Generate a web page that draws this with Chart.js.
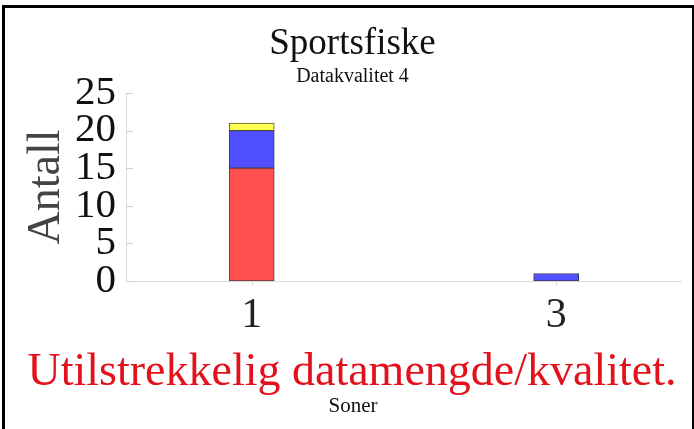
<!DOCTYPE html>
<html><head><meta charset="utf-8">
<script src="https://cdn.jsdelivr.net/npm/chart.js@4/dist/chart.umd.min.js"></script>
<style>
html,body{margin:0;padding:0;background:#fff;overflow:hidden;}
#wrap{position:relative;width:694px;height:429px;}
#frame{position:absolute;left:2px;top:5px;width:687px;height:440px;border:3px solid #000;border-bottom:none;pointer-events:none;}
</style></head><body>
<div id="wrap"><canvas id="c" width="694" height="429"></canvas><div id="frame"></div></div>
<script>
const categories = [1, 3];
const yTicks = [0, 5, 10, 15, 20, 25];
const redValues = [15, 0];
const blueValues = [5, 1];
const yellowValues = [1, 0];
const chartTitle = 'Sportsfiske';
const chartSubtitle = 'Datakvalitet 4';
const yTitle = 'Antall';
const xTitle = 'Soner';
const warningText = 'Utilstrekkelig datamengde/kvalitet.';

const SERIF = '"Liberation Serif", "DejaVu Serif", serif';
const pts = vals => categories.map((c, i) => ({x: c, y: vals[i]}));

const inwardTicks = {
  id: 'inwardTicks',
  afterDatasetsDraw(chart) {
    const {ctx, scales: {x, y}} = chart;
    ctx.save();
    ctx.strokeStyle = '#cfcfcf';
    ctx.lineWidth = 1;
    ctx.beginPath();
    yTicks.forEach(v => {
      const py = Math.round(y.getPixelForValue(v)) + 0.5;
      ctx.moveTo(x.left, py); ctx.lineTo(x.left + 7, py);
    });
    categories.forEach(v => {
      const px = Math.round(x.getPixelForValue(v)) + 0.5;
      ctx.moveTo(px, y.bottom + 1); ctx.lineTo(px, y.bottom + 4);
    });
    ctx.stroke();
    ctx.restore();
  }
};

const bottomTexts = {
  id: 'bottomTexts',
  afterDraw(chart) {
    const {ctx} = chart;
    ctx.save();
    ctx.textAlign = 'center';
    ctx.textBaseline = 'alphabetic';
    ctx.font = '46px ' + SERIF;
    ctx.fillStyle = '#e3111b';
    ctx.fillText(warningText, 352, 385);
    ctx.font = '21px ' + SERIF;
    ctx.fillStyle = '#111';
    ctx.fillText(xTitle, 353, 412);
    ctx.restore();
  }
};

new Chart(document.getElementById('c'), {
  type: 'bar',
  data: {
    datasets: [
      {label: 'a', data: pts(redValues), backgroundColor: '#ff5050', borderColor: '#5a3a3a', borderWidth: 1, borderSkipped: false, barThickness: 45},
      {label: 'b', data: pts(blueValues), backgroundColor: '#5050ff', borderColor: '#3a3a5a', borderWidth: 1, borderSkipped: false, barThickness: 45},
      {label: 'c', data: pts(yellowValues), backgroundColor: '#ffff50', borderColor: '#5a5a3a', borderWidth: 1, borderSkipped: false, barThickness: 45}
    ]
  },
  plugins: [inwardTicks, bottomTexts],
  options: {
    responsive: false,
    animation: false,
    events: [],
    layout: {padding: {left: 24, right: 13, top: 26, bottom: 8}},
    plugins: {
      legend: {display: false},
      tooltip: {enabled: false},
      title: {display: true, text: chartTitle, color: '#111', font: {family: SERIF, size: 37, weight: 'normal', lineHeight: 1.0}, padding: {top: 0, bottom: 0}},
      subtitle: {display: true, text: chartSubtitle, color: '#111', font: {family: SERIF, size: 20, weight: 'normal', lineHeight: 1.0}, padding: {top: 4, bottom: 6}}
    },
    scales: {
      x: {
        type: 'linear', stacked: true, min: 0.174, max: 3.82, offset: false,
        afterBuildTicks: s => { s.ticks = categories.map(v => ({value: v})); },
        afterFit: s => { s.height = 140; },
        grid: {display: false, offset: false, drawTicks: false},
        border: {display: true, color: '#d8d8d8', width: 1},
        ticks: {color: '#222', font: {family: SERIF, size: 42}, padding: 10, autoSkip: false, maxRotation: 0, callback: v => String(v)},
        title: {display: false}
      },
      y: {
        stacked: true, min: 0, max: 25,
        afterBuildTicks: s => { s.ticks = yTicks.map(v => ({value: v})); },
        afterFit: s => { s.width = 102; },
        grid: {display: false, drawTicks: false},
        border: {display: true, color: '#d8d8d8', width: 1},
        ticks: {color: '#111', font: {family: SERIF, size: 41}, padding: 10, autoSkip: false},
        title: {display: true, text: yTitle, color: '#444', font: {family: SERIF, size: 46, lineHeight: 0.8}, padding: {top: 5, bottom: 0}}
      }
    }
  }
});
</script>
</body></html>
